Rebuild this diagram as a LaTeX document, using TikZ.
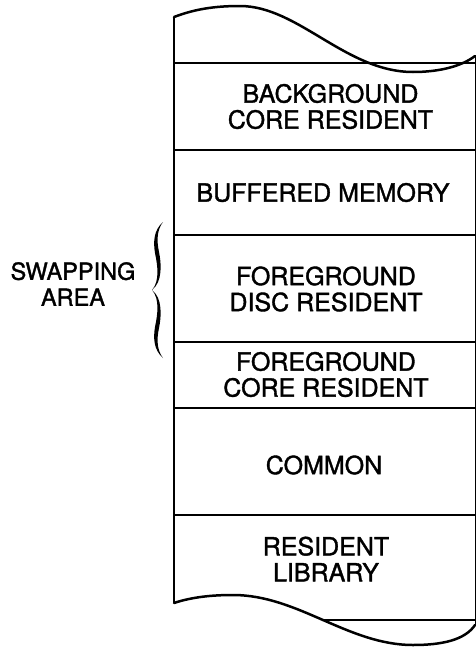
\documentclass[tikz,border=0pt]{standalone}
\usepackage{fontspec}
\setmainfont{TeX Gyre Heros}
\newfontface\lblface{TeX Gyre Heros}[RawFeature={embolden=1.4}]
\usetikzlibrary{intersections}

\begin{document}
\begin{tikzpicture}[x=1pt,y=-1pt,
    lbl/.style={font=\lblface\fontsize{25}{26}\selectfont, align=center, inner sep=0pt},
    rule/.style={line width=1.9pt},
    edge/.style={line width=2.4pt},
    wave/.style={line width=2.5pt, line cap=round},
    thinedge/.style={line width=0.8pt}]
\useasboundingbox (0,0) rectangle (476,648);

% corners of the memory column
\coordinate (tl) at (174,17);
\coordinate (tr) at (475,56);
\coordinate (bl) at (174,603);
\coordinate (br) at (475,625);

% torn top and bottom edges
\draw[wave, name path=topwave] (tl) .. controls (195,9) and (215,6) .. (240,6)
   .. controls (298,6) and (346,72) .. (413,72)
   .. controls (440,72) and (462,66) .. (tr);
\draw[wave, name path=botwave] (bl) .. controls (192,597) and (212,595) .. (233,595)
   .. controls (298,595) and (348,645) .. (413,645)
   .. controls (442,645) and (465,640) .. (br);

% side walls
\draw[edge] (tl) -- (bl);
\draw[thinedge] (tr) -- (br);

% partition lines
\foreach \n/\y in {a/63, b/150, c/235, d/342, e/408, f/515}{
  \coordinate (l\n) at (174,\y);
  \coordinate (r\n) at (475,\y);
  \draw[rule] (l\n) -- (r\n);
}
\path[name path=lastline] (174,620) -- (475,620);
\path[name intersections={of=botwave and lastline, by=cut}];
\coordinate (rg) at (475,620);
\draw[rule] (cut) -- (rg);

% region labels
\node[lbl] (bgcore)  at (330.5,106.5) {BACKGROUND\\CORE RESIDENT};
\node[lbl] (buffer)  at (323,192.5)   {BUFFERED MEMORY};
\node[lbl] (fgdisc)  at (326,289)     {FOREGROUND\\DISC RESIDENT};
\node[lbl] (fgcore)  at (326,374.5)   {FOREGROUND\\CORE RESIDENT};
\node[lbl] (common)  at (324,465)     {COMMON};
\node[lbl] (reslib)  at (326,559)     {RESIDENT\\LIBRARY};

% swapping area label and its brace
\node[lbl, font=\lblface\fontsize{23.5}{26}\selectfont] (swap) at (73,284) {SWAPPING\\AREA};
\fill (163,222) .. controls (154,230) and (153,241) .. (155,253)
   .. controls (157.5,265) and (160,281) .. (152,290)
   .. controls (160,299) and (157.5,315) .. (155,327)
   .. controls (153,339) and (154,350) .. (163,358)
   .. controls (157,350) and (156.5,340) .. (159,328)
   .. controls (161.5,316) and (162.5,298) .. (152,290)
   .. controls (162.5,282) and (161.5,264) .. (159,252)
   .. controls (156.5,240) and (157,230) .. (163,222) -- cycle;
\end{tikzpicture}
\end{document}
